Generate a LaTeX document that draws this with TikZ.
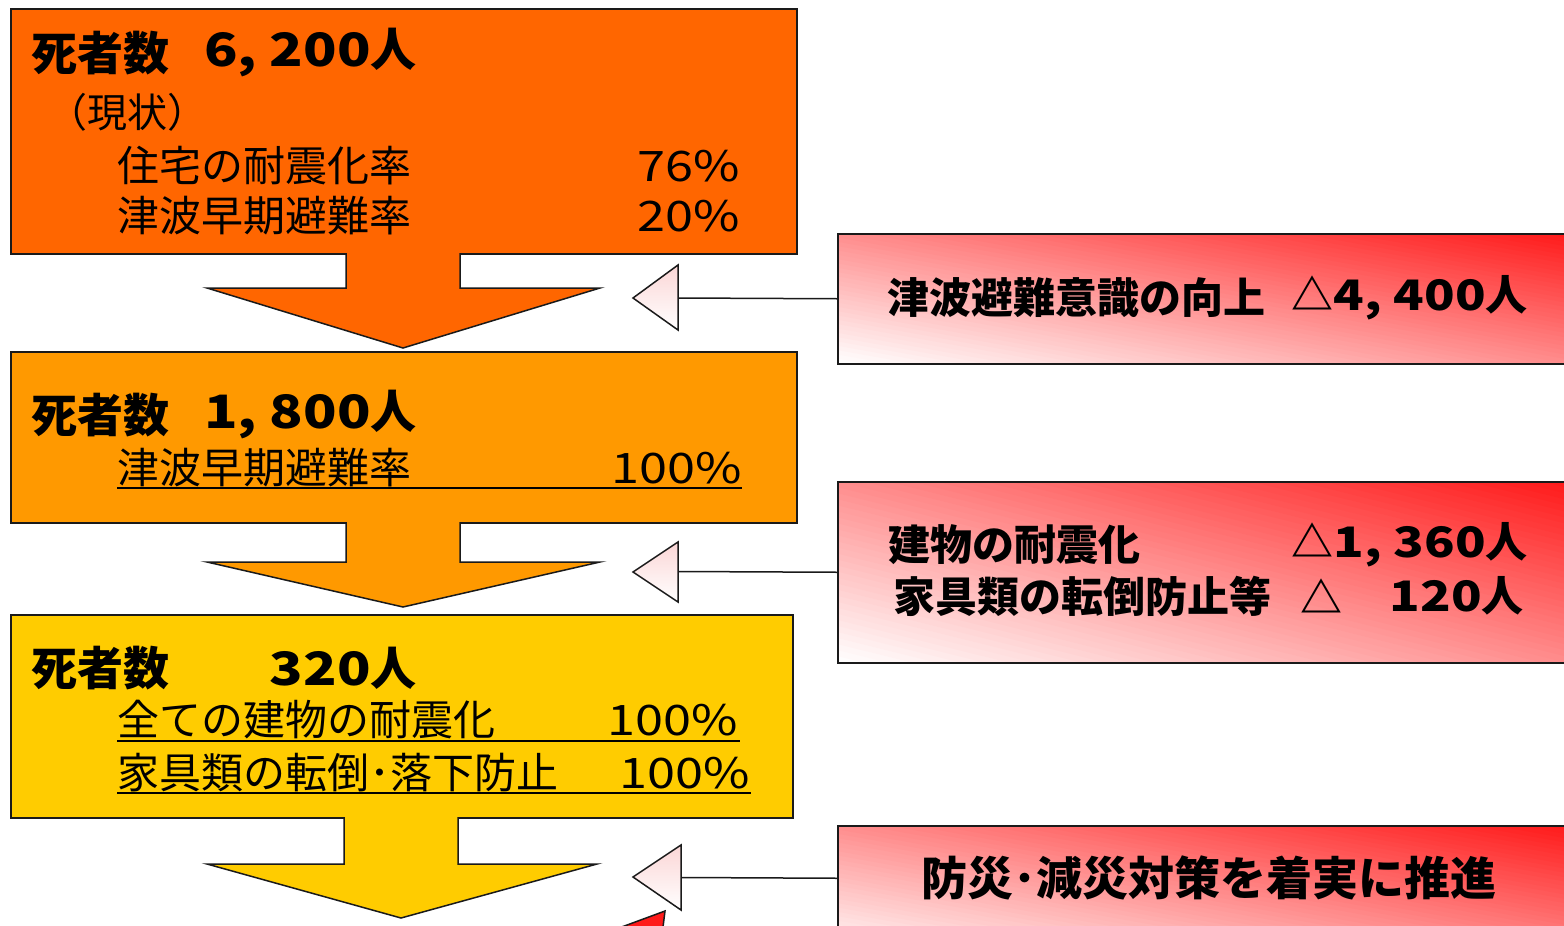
\documentclass[tikz,border=0pt]{standalone}
\usepackage{fontspec}
\setmainfont{Noto Sans CJK JP}
\newfontfamily\jpn[FakeStretch=1.2]{Noto Sans CJK JP}
\definecolor{cA}{HTML}{FF6600}
\definecolor{cB}{HTML}{FF9900}
\definecolor{cC}{HTML}{FFCC00}
\definecolor{rd}{HTML}{FF1A1A}
\definecolor{tri}{HTML}{FBD6D6}
\definecolor{ln}{HTML}{1A1A1A}
\newcommand{\gradbox}[4]{%
  \begin{scope}
  \clip (#1,#2) rectangle ++(#3,#4);
  \begin{scope}[shift={(#1,#2+#4)}]
  \begin{scope}[x={(#3pt,0pt)}, y={(0pt,#4pt)}]
    \foreach \k in {0,...,59}{
      \pgfmathsetmacro\tc{(\k+0.5)*100/60}
      \fill[rd!\tc!white] ({2*\k/60+1},-1) -- ({2*\k/60-2},2) -- ({2*(\k+1)/60-2+0.01},2) -- ({2*(\k+1)/60+1+0.01},-1) -- cycle;
    }
  \end{scope}\end{scope}\end{scope}}
\tikzset{
  lbox/.style={draw=ln, line width=1.5pt, inner sep=0pt, anchor=north west},
  rbox/.style={draw=ln, line width=1.5pt, inner sep=0pt, anchor=north west},
  ttl/.style={anchor=west, inner sep=0pt, font=\fontsize{46}{50}\selectfont\bfseries},
  sub/.style={anchor=west, inner sep=0pt, font=\fontsize{42}{46}\selectfont},
  num/.style={anchor=east, inner sep=0pt, font=\fontsize{42}{46}\selectfont\jpn},
  rt/.style={anchor=west, inner sep=0pt, font=\fontsize{42}{46}\selectfont\bfseries},
  arrowout/.style={draw=ln, line width=1.5pt, line join=miter},
  trishape/.style={draw=ln, line width=1.5pt, top color=tri, bottom color=white, line join=miter},
  conn/.style={draw=ln, line width=1.5pt},
  uline/.style={draw=black, line width=2pt}
}
\begin{document}
\begin{tikzpicture}[x=1pt,y=-1pt]
\useasboundingbox (0,0) rectangle (1564,926);
\clip (0,0) rectangle (1564,926);
\fill[white] (0,0) rectangle (1564,926);

% left boxes
\node[lbox, fill=cA, minimum width=786pt, minimum height=245pt] (b1) at (10,8) {};
\node[lbox, fill=cB, minimum width=786pt, minimum height=171pt] (b2) at (10,351) {};
\node[lbox, fill=cC, minimum width=782pt, minimum height=203pt] (b3) at (10,614) {};

% big down arrows
\fill[cA] (346,250) -- (346,288) -- (207,288) -- (403,348) -- (600,288) -- (460,288) -- (460,250) -- cycle;
\draw[arrowout] (346,253) -- (346,288) -- (207,288) -- (403,348) -- (600,288) -- (460,288) -- (460,253);
\fill[cB] (346,519) -- (346,562) -- (207,562) -- (403,607) -- (600,562) -- (460,562) -- (460,519) -- cycle;
\draw[arrowout] (346,522) -- (346,562) -- (207,562) -- (403,607) -- (600,562) -- (460,562) -- (460,522);
\fill[cC] (344,814) -- (344,864) -- (207,864) -- (401,918) -- (597,864) -- (458,864) -- (458,814) -- cycle;
\draw[arrowout] (344,817) -- (344,864) -- (207,864) -- (401,918) -- (597,864) -- (458,864) -- (458,817);

% red shape at bottom (cut off)
\filldraw[fill=rd, draw=ln, line width=1.5pt] (600,935) -- (665,911) -- (662,935) -- cycle;

% right boxes: diagonal gradient then outline
\gradbox{837}{233}{727}{130}
\gradbox{837}{481}{727}{181}
\gradbox{837}{825}{727}{130}
\node[rbox, minimum width=740pt, minimum height=130pt] (ra) at (837,233) {};
\node[rbox, minimum width=740pt, minimum height=181pt] (rb) at (837,481) {};
\node[rbox, minimum width=740pt, minimum height=105pt] (rc) at (837,825) {};

% small triangles and connectors
\draw[trishape] (678,265) -- (633,298) -- (678,330) -- cycle;
\coordinate (ta) at (678,298);
\draw[conn] (ra.west) -- (ta);
\draw[trishape] (678,542) -- (633,572) -- (678,602) -- cycle;
\coordinate (tb) at (678,571.5);
\draw[conn] (rb.west) -- (tb);
\draw[trishape] (681,845) -- (633,877) -- (681,910) -- cycle;
\coordinate (tc) at (681,877.5);
\draw[conn] (rc.west) -- (tc);

% box 1 text
\node[ttl] (h1) at (31,53) {死者数};
\node[ttl, anchor=east] (v1) at (417,53) {{\jpn 6, 200}人};
\node[sub, font=\fontsize{40}{44}\selectfont] (p1) at (47,112) {（現状）};
\node[sub] (s11) at (117,166) {住宅の耐震化率};
\node[num] (n11) at (740,166) {76\%};
\node[sub] (s12) at (117,216) {津波早期避難率};
\node[num] (n12) at (740,216) {20\%};

% box 2 text
\node[ttl] (h2) at (31,415) {死者数};
\node[ttl, anchor=east] (v2) at (417,415) {{\jpn 1, 800}人};
\node[sub] (s21) at (117,468) {津波早期避難率};
\node[num] (n21) at (742,468) {100\%};
\draw[uline] (117,488) -- (742,488);

% box 3 text
\node[ttl] (h3) at (31,668) {死者数};
\node[ttl, anchor=east] (v3) at (417,668) {{\jpn 320}人};
\node[sub] (s31) at (117,720) {全ての建物の耐震化};
\node[num] (n31) at (738,720) {100\%};
\draw[uline] (117,741) -- (740,741);
\node[sub] (s32) at (117,773) {家具類の転倒･落下防止};
\node[num] (n32) at (750,773) {100\%};
\draw[uline] (117,793) -- (751,793);

% right box texts
\node[rt] (ra1) at (887,298) {津波避難意識の向上};
\node[rt, anchor=east] (ra2) at (1528,298) {△{\jpn 4, 400}人};
\node[rt] (rb1) at (888,545) {建物の耐震化};
\node[rt, anchor=east] (rb2) at (1528,545) {△{\jpn 1, 360}人};
\node[rt] (rb3) at (893,596) {家具類の転倒防止等};
\node[rt] (rb4) at (1300,596) {△};
\node[rt, anchor=east] (rb5) at (1524,596) {{\jpn 120}人};
\node[rt, anchor=center, font=\fontsize{46}{50}\selectfont\bfseries] (rc1) at (1209,878) {防災･減災対策を着実に推進};
\end{tikzpicture}
\end{document}
